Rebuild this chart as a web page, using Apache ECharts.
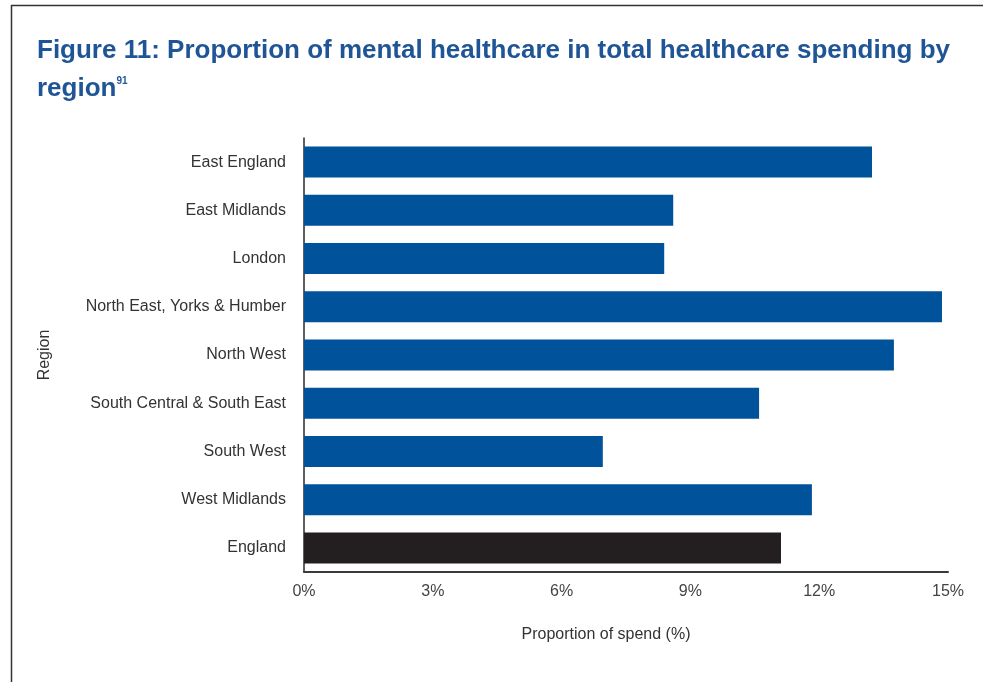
<!DOCTYPE html>
<html>
<head>
<meta charset="utf-8">
<script src="https://cdn.jsdelivr.net/npm/echarts@6/dist/echarts.min.js"></script>
<style>
html,body{margin:0;padding:0;background:#fff;}
#chart{width:991px;height:682px;}
</style>
</head>
<body>
<div id="chart"></div>
<script>
const regions = ['East England','East Midlands','London','North East, Yorks & Humber','North West','South Central & South East','South West','West Midlands','England'];
const shares = [13.23, 8.6, 8.39, 14.86, 13.74, 10.6, 6.96, 11.83, 11.11];
const xTicks = { min: 0, max: 15, interval: 3 };
const blue = '#00529b';
const dark = '#231f20';

const chart = echarts.init(document.getElementById('chart'), null, {renderer:'canvas'});
const FONT = '"Liberation Sans", Arial, Helvetica, sans-serif';
chart.setOption({
  animation: false,
  backgroundColor: '#fff',
  title: {
    left: 32, top: 27,
    text: '{t|Figure 11: Proportion of mental healthcare in total healthcare spending by}\n{t|region}{s|91}',
    textStyle: {
      rich: {
        t: { fontFamily: FONT, fontSize: 26, fontWeight: 'bold', color: '#1f5596', lineHeight: 38 },
        s: { fontFamily: FONT, fontSize: 10, fontWeight: 'bold', color: '#1f5596', padding: [0,0,16,0] }
      }
    }
  },
  graphic: [
    { type: 'line', shape: { x1: 11, y1: 5.5, x2: 983, y2: 5.5 }, style: { stroke: '#333', lineWidth: 1.5 } },
    { type: 'line', shape: { x1: 11.5, y1: 5, x2: 11.5, y2: 682 }, style: { stroke: '#333', lineWidth: 1.5 } }
  ],
  grid: { left: 304, right: 43, top: 138, bottom: 110, containLabel: false },
  xAxis: {
    type: 'value', min: xTicks.min, max: xTicks.max, interval: xTicks.interval,
    name: 'Proportion of spend (%)', nameLocation: 'middle', nameGap: 55,
    nameTextStyle: { fontFamily: FONT, fontSize: 16, color: '#333', padding: [0, 40, 0, 0] },
    axisLine: { show: true, lineStyle: { color: '#3a3a3a', width: 2 } },
    axisTick: { show: false },
    splitLine: { show: false },
    axisLabel: { formatter: '{value}%', fontFamily: FONT, fontSize: 16, color: '#444', margin: 12 }
  },
  yAxis: {
    type: 'category', data: regions, inverse: true,
    name: 'Region', nameLocation: 'middle', nameGap: 251, nameRotate: 90,
    nameTextStyle: { fontFamily: FONT, fontSize: 16, color: '#333' },
    axisLine: { show: true, lineStyle: { color: '#2a2a2a', width: 1.5 } },
    axisTick: { show: false },
    axisLabel: { fontFamily: FONT, fontSize: 16, color: '#333', margin: 18 }
  },
  series: [{
    type: 'bar',
    data: shares.map((v, i) => ({ value: v, itemStyle: { color: i === regions.length - 1 ? dark : blue } })),
    barWidth: 31
  }]
});
</script>
</body>
</html>
